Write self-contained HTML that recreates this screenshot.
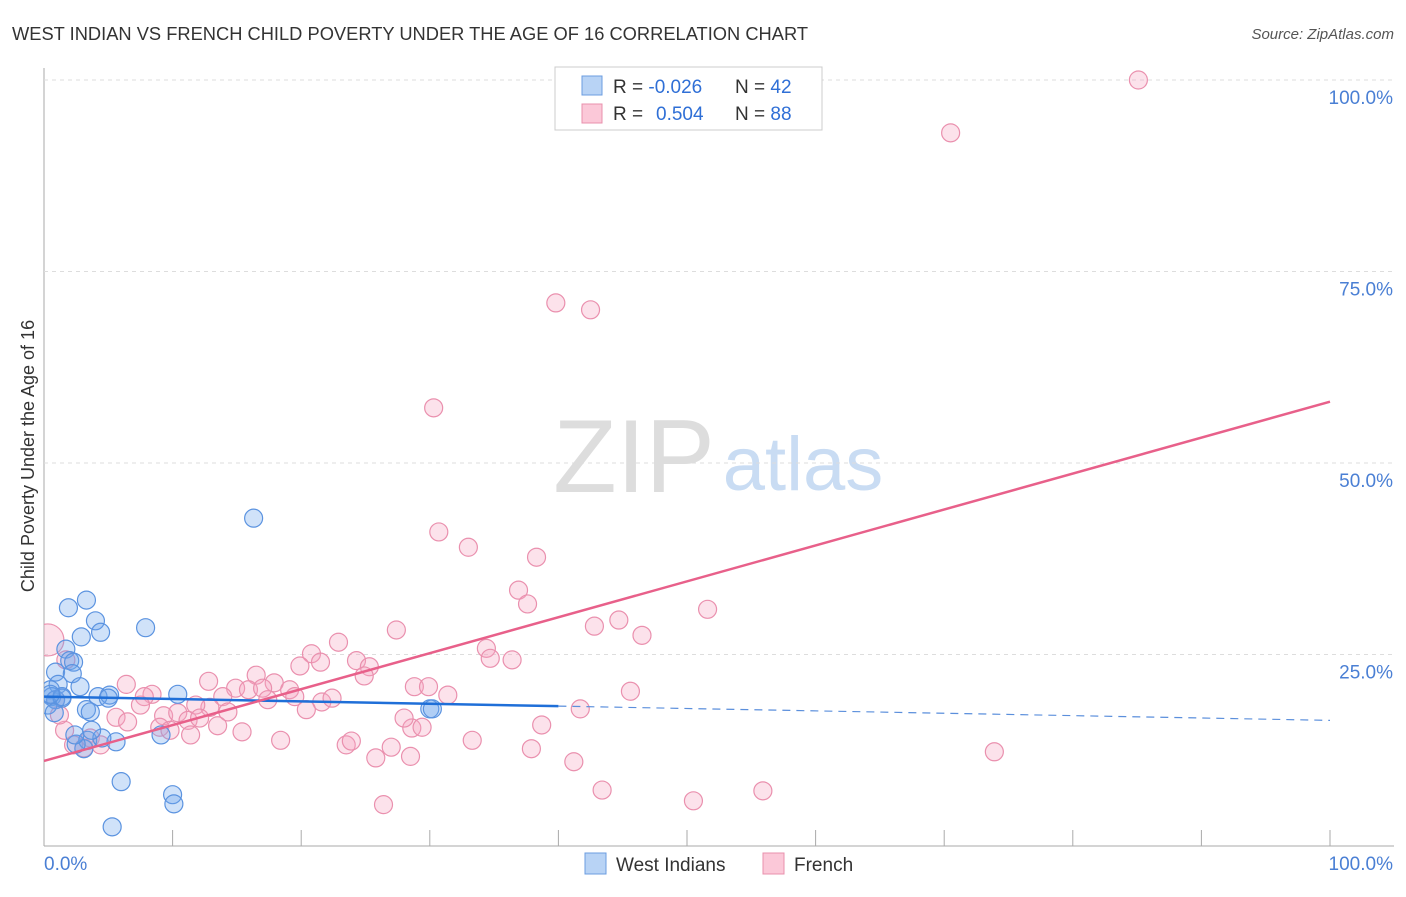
<!DOCTYPE html>
<html><head><meta charset="utf-8">
<style>
body{margin:0;background:#fff;font-family:"Liberation Sans",sans-serif;}
svg text{font-family:"Liberation Sans",sans-serif;}
</style></head>
<body>
<svg id="chart" width="1406" height="892">
<text x="12" y="40" font-size="18.3" fill="#333" textLength="796">WEST INDIAN VS FRENCH CHILD POVERTY UNDER THE AGE OF 16 CORRELATION CHART</text>
<text x="1394" y="39" font-size="15" fill="#555" font-style="italic" text-anchor="end">Source: ZipAtlas.com</text>
<g>
<text x="634" y="492" font-size="104" fill="#ddd" font-family="Liberation Serif" text-anchor="middle">ZIP</text>
<text x="803" y="490" font-size="76" fill="#c9dcf3" text-anchor="middle">atlas</text>
</g>
<text transform="translate(34,456) rotate(-90)" font-size="18" fill="#333" text-anchor="middle">Child Poverty Under the Age of 16</text>
<g id="grid"></g>
<g id="marks"></g>
<g>
<rect x="555" y="67" width="267" height="63" fill="#fff" stroke="#ccc"/>
<rect x="582" y="76" width="20" height="19" fill="#b8d3f5" stroke="#6b9de0"/>
<rect x="582" y="104" width="20" height="19" fill="#fbc8d8" stroke="#e890ac"/>
<text x="613" y="93" font-size="19" fill="#333">R = <tspan fill="#2f6fd6">-0.026</tspan></text>
<text x="735" y="93" font-size="19" fill="#333">N = <tspan fill="#2f6fd6">42</tspan></text>
<text x="613" y="120" font-size="19" fill="#333">R = <tspan fill="#2f6fd6" x="656">0.504</tspan></text>
<text x="735" y="120" font-size="19" fill="#333">N = <tspan fill="#2f6fd6">88</tspan></text>
</g>
<g>
<rect x="585" y="853" width="21" height="21" fill="#b8d3f5" stroke="#6b9de0"/>
<text x="616" y="871" font-size="19" fill="#333">West Indians</text>
<rect x="763" y="853" width="21" height="21" fill="#fbc8d8" stroke="#e890ac"/>
<text x="794" y="871" font-size="19" fill="#333">French</text>
</g>
</svg>
<script>
const yTicks=[25,50,75,100];
const yTickLabels=["25.0%","50.0%","75.0%","100.0%"];
const xTicks=[0,10,20,30,40,50,60,70,80,90,100];
const blueX=[3.3,1.9,4.0,4.4,2.9,7.9,1.7,2.0,2.3,0.9,2.2,1.1,2.8,0.5,0.6,0.9,1.4,0.3,4.2,5.1,5.0,10.4,1.4,3.3,3.6,3.1,3.4,2.5,5.6,4.5,9.1,3.7,6.0,10.0,10.1,5.3,16.3,30.0,30.2,0.5,0.8,2.4];
const blueY=[32.1,31.1,29.4,27.9,27.3,28.5,25.7,24.2,24.0,22.7,22.5,21.1,20.8,20.4,19.5,19.1,19.3,18.4,19.5,19.7,19.3,19.8,19.5,17.8,17.5,12.7,13.8,13.3,13.6,14.1,14.5,15.1,8.4,6.7,5.5,2.5,42.8,17.9,17.9,19.8,17.4,14.5];
const pinkX=[0.3,85.1,70.5,39.8,42.5,30.3,30.7,33.0,38.3,36.9,37.6,51.6,42.8,44.7,46.5,27.4,22.9,34.4,34.7,36.4,20.8,19.9,21.5,24.3,25.3,24.9,45.6,73.9,16.5,17.9,14.9,15.9,17.0,19.1,19.5,17.4,21.6,22.4,28.8,29.9,31.4,41.7,12.8,13.9,12.9,14.3,20.4,11.8,8.4,7.8,6.4,7.5,5.6,6.5,9.3,10.4,11.2,12.1,9.0,9.8,11.4,13.5,15.4,18.4,23.5,23.9,27.0,28.6,29.4,28.0,33.3,38.7,37.9,41.2,43.4,50.5,55.9,26.4,25.8,28.5,3.6,4.4,2.3,3.1,1.6,1.2,0.9,1.7];
const pinkY=[26.9,100,93.1,70.9,70.0,57.2,41.0,39.0,37.7,33.4,31.6,30.9,28.7,29.5,27.5,28.2,26.6,25.8,24.5,24.3,25.1,23.5,24.0,24.2,23.4,22.2,20.2,12.3,22.3,21.3,20.6,20.4,20.6,20.4,19.5,19.1,18.8,19.3,20.8,20.8,19.7,17.9,21.5,19.5,18.1,17.5,17.8,18.4,19.8,19.5,21.1,18.4,16.8,16.2,17.0,17.4,16.4,16.7,15.5,15.1,14.5,15.7,14.9,13.8,13.2,13.7,12.9,15.4,15.5,16.7,13.8,15.8,12.7,11.0,7.3,5.9,7.2,5.4,11.5,11.7,14.1,13.2,13.2,12.8,15.1,17.1,19.1,24.3];
const blueTrend=[19.5,16.4];
const pinkTrend=[11.1,58.0];
const blueSolidEnd=40;

const X0=44,X1=1330,Y0=846,Y100=80;
const sx=v=>X0+(X1-X0)*v/100;
const sy=v=>Y0-(Y0-Y100)*v/100;
const NS="http://www.w3.org/2000/svg";
function mk(tag,attrs,parent){const e=document.createElementNS(NS,tag);for(const k in attrs)e.setAttribute(k,attrs[k]);parent.appendChild(e);return e;}
const grid=document.getElementById('grid'),marks=document.getElementById('marks');
mk('line',{x1:X0,y1:68,x2:X0,y2:Y0,stroke:'#aaa'},grid);
mk('line',{x1:X0,y1:Y0,x2:1394,y2:Y0,stroke:'#aaa'},grid);
yTicks.forEach((t,i)=>{
 const l=mk('line',{x1:X0,y1:sy(t),x2:1394,y2:sy(t),stroke:'#ddd','stroke-dasharray':'4,4'},grid);
 
 
 const tx=mk('text',{x:1393,y:sy(t)+24,'font-size':19,fill:'#4a7fd4','text-anchor':'end'},grid);
 tx.textContent=yTickLabels[i];
 
 
});
xTicks.forEach(t=>{
 const l=mk('line',{x1:sx(t),y1:Y0-16,x2:sx(t),y2:Y0,stroke:'#aaa'},grid);
 
 
});
const xl0=mk('text',{x:44,y:870,'font-size':19,fill:'#4a7fd4'},grid);xl0.textContent='0.0%';


const xl1=mk('text',{x:1393,y:870,'font-size':19,fill:'#4a7fd4','text-anchor':'end'},grid);xl1.textContent='100.0%';



const clip=mk('clipPath',{id:'plotclip'},marks);
mk('rect',{x:X0,y:60,width:1360,height:Y0-60},clip);
pinkX.forEach((x,i)=>{
 const c=mk('circle',{cx:sx(x),cy:sy(pinkY[i]),r:i===0?16:9,fill:'rgba(246,165,192,0.32)',stroke:'#ea90ae','stroke-width':1.2,'clip-path':'url(#plotclip)'},marks);
 
 
});
blueX.forEach((x,i)=>{
 const c=mk('circle',{cx:sx(x),cy:sy(blueY[i]),r:9,fill:'rgba(110,165,235,0.32)',stroke:'#5b93e0','stroke-width':1.2,'clip-path':'url(#plotclip)'},marks);
 
 
});
const bAt=v=>blueTrend[0]+(blueTrend[1]-blueTrend[0])*v/100;
const bl=mk('line',{x1:sx(0),y1:sy(bAt(0)),x2:sx(blueSolidEnd),y2:sy(bAt(blueSolidEnd)),stroke:'#1f6fd8','stroke-width':2.5},marks);


const bd=mk('line',{x1:sx(blueSolidEnd),y1:sy(bAt(blueSolidEnd)),x2:sx(100),y2:sy(bAt(100)),stroke:'#5b8fdc','stroke-width':1.2,'stroke-dasharray':'8,6'},marks);


const pl=mk('line',{x1:sx(0),y1:sy(pinkTrend[0]),x2:sx(100),y2:sy(pinkTrend[1]),stroke:'#e8608a','stroke-width':2.5},marks);


</script>
</body></html>
